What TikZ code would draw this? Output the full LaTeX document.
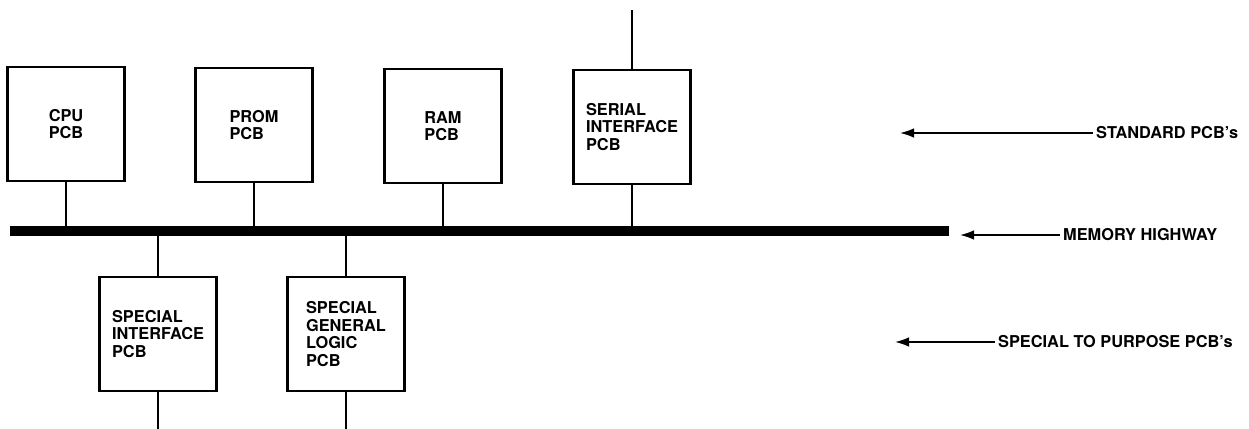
\documentclass[tikz,border=0pt]{standalone}
\usepackage{fontspec}
\setmainfont{TeX Gyre Heros}
\usetikzlibrary{arrows.meta}

\begin{document}
\begin{tikzpicture}[
            x=0.02cm,
            y=-0.02cm,
            pcbbox/.style={
                rectangle,
                draw,
                line width=1.4pt,
                minimum width=2.34cm,
                minimum height=2.28cm,
                align=left,
                font=\fontsize{9.3}{10}\selectfont\bfseries
            },
            lbl/.style={
                inner sep=1.6pt,
                font=\fontsize{9.3}{10}\selectfont\bfseries
            },
            stub/.style={line width=1.3pt},
            pointer/.style={line width=1pt, -{Latex[length=8pt,width=5.5pt]}}
        ]
            \useasboundingbox (0,0) rectangle (1249,429);

            \node[pcbbox] (cpu) at (66,124) {CPU\\PCB};
            \node[pcbbox] (prom) at (254,125) {PROM\\PCB};
            \node[pcbbox] (ram) at (443,126) {RAM\\PCB};
            \node[pcbbox] (serial) at (632,127) {SERIAL\\INTERFACE\\PCB};
            \node[pcbbox] (spint) at (158,334) {SPECIAL\\INTERFACE\\PCB};
            \node[pcbbox] (spgen) at (346,334) {SPECIAL\\GENERAL\\LOGIC\\PCB};

            \coordinate (busl) at (10,231);
            \coordinate (busr) at (949,231);
            \coordinate (serialtop) at (632,10);
            \coordinate (spintend) at (158,429);
            \coordinate (spgenend) at (346,429);

            \draw[line width=5.7pt] (busl)--(busr);

            \draw[stub] (cpu)--(cpu |- busl);
            \draw[stub] (prom)--(prom |- busl);
            \draw[stub] (ram)--(ram |- busl);
            \draw[stub] (serial)--(serial |- busl);
            \draw[stub] (serial)--(serialtop);
            \draw[stub] (spint |- busl)--(spint);
            \draw[stub] (spgen |- busl)--(spgen);
            \draw[stub] (spint)--(spintend);
            \draw[stub] (spgen)--(spgenend);

            \node[lbl, anchor=west] (std) at (1093,133) {STANDARD PCB's};
            \node[lbl, anchor=west] (hwy) at (1060,235) {MEMORY HIGHWAY};
            \node[lbl, anchor=west] (spc) at (995,342) {SPECIAL TO PURPOSE PCB's};

            \coordinate (stdtip) at (900,133);
            \coordinate (hwytip) at (960,235);
            \coordinate (spctip) at (895,342);

            \draw[pointer] (std.west)--(stdtip);
            \draw[pointer] (hwy.west)--(hwytip);
            \draw[pointer] (spc.west)--(spctip);
        \end{tikzpicture}
\end{document}
